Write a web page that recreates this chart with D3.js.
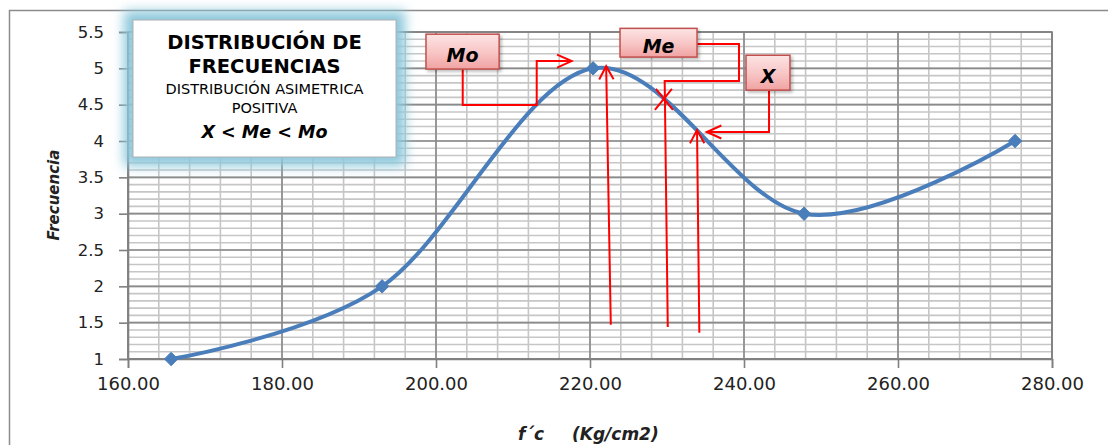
<!DOCTYPE html>
<html><head><meta charset="utf-8">
<script src="https://cdn.jsdelivr.net/npm/d3@7"></script>
<style>
html,body{margin:0;padding:0;background:#fff;}
svg{display:block;}
text{font-family:"DejaVu Sans",sans-serif;}
</style></head>
<body><svg id="chart" width="1108" height="445"></svg>
<script>
// ---- data ----
const classMarks = [165.6, 193.0, 220.4, 247.8, 275.2];
const frequencies = [1, 2, 5, 3, 4];
const xTickValues = [160, 180, 200, 220, 240, 260, 280];
const yTickValues = [1, 1.5, 2, 2.5, 3, 3.5, 4, 4.5, 5, 5.5];
const xTitle = ["f´c", "(Kg/cm2)"];
const yTitle = "Frecuencia";
const boxLines = ["DISTRIBUCIÓN DE", "FRECUENCIAS", "DISTRIBUCIÓN ASIMETRICA", "POSITIVA", "X < Me < Mo"];
// annotation labels (data coordinates)
const labelNames = ["Mo", "Me", "X"];
const labelX = [[198.7, 208.2], [223.9, 233.9], [240.26, 245.97]];
const labelY = [[4.99, 5.47], [5.155, 5.55], [4.70, 5.18]];
const moLeader = [[203.47, 4.99], [203.47, 4.495], [213.08, 4.495], [213.08, 5.10], [217.62, 5.10]];
const meLeader = [[233.9, 5.335], [239.35, 5.335], [239.35, 4.825], [229.7, 4.825], [230.1, 1.44]];
const xLeader = [[243.25, 4.70], [243.25, 4.124], [235.16, 4.124]];
const moArrow = [[222.7, 1.47], [222.1, 5.03]];
const xArrow = [[234.2, 1.36], [233.9, 4.15]];
const meCross = [229.6, 4.58];

// ---- layout ----
const svg = d3.select("#chart");
const L = 128, R = 1052, T = 32, B = 359;
const x = d3.scaleLinear().domain([160, 280]).range([L, R]);
const y = d3.scaleLinear().domain([1, 5.5]).range([B, T]);

const defs = svg.append("defs");
const blur = defs.append("filter").attr("id", "glow").attr("x", "-30%").attr("y", "-40%").attr("width", "160%").attr("height", "180%");
blur.append("feGaussianBlur").attr("stdDeviation", 6);
const grad = defs.append("linearGradient").attr("id", "pink").attr("x1", 0).attr("y1", 0).attr("x2", 0).attr("y2", 1);
grad.append("stop").attr("offset", "0%").attr("stop-color", "#fde4e4");
grad.append("stop").attr("offset", "55%").attr("stop-color", "#f8c4c4");
grad.append("stop").attr("offset", "100%").attr("stop-color", "#f0a2a2");
const sh = defs.append("filter").attr("id", "shadow").attr("x", "-20%").attr("y", "-20%").attr("width", "150%").attr("height", "150%");
sh.append("feDropShadow").attr("dx", 2).attr("dy", 2).attr("stdDeviation", 1.5).attr("flood-color", "#000").attr("flood-opacity", 0.25);

// outer frame
svg.append("rect").attr("x", 9.5).attr("y", 10.5).attr("width", 1200).attr("height", 500)
  .attr("fill", "none").attr("stroke", "#8c8c8c").attr("stroke-width", 1.5);

// grid
const minorX = d3.range(160, 280.001, 4);
const minorY = d3.range(10, 55.001, 1).map(v => v / 10);
const g = svg.append("g");
g.selectAll(".vmin").data(minorX).join("line")
  .attr("x1", d => x(d)).attr("x2", d => x(d)).attr("y1", T).attr("y2", B)
  .attr("stroke", "#c6c6c6").attr("stroke-width", 1.6);
g.selectAll(".hmin").data(minorY).join("line")
  .attr("x1", L).attr("x2", R).attr("y1", d => y(d)).attr("y2", d => y(d))
  .attr("stroke", "#c6c6c6").attr("stroke-width", 1.6);
g.selectAll(".vmaj").data(xTickValues).join("line")
  .attr("x1", d => x(d)).attr("x2", d => x(d)).attr("y1", T).attr("y2", B)
  .attr("stroke", "#8a8a8a").attr("stroke-width", 1.6);
g.selectAll(".hmaj").data(yTickValues).join("line")
  .attr("x1", L).attr("x2", R).attr("y1", d => y(d)).attr("y2", d => y(d))
  .attr("stroke", "#8a8a8a").attr("stroke-width", 1.6);
g.append("rect").attr("x", L).attr("y", T).attr("width", R - L).attr("height", B - T)
  .attr("fill", "none").attr("stroke", "#808080").attr("stroke-width", 1.6);

// axes
const xAxis = svg.append("g").attr("transform", `translate(0,${B})`)
  .call(d3.axisBottom(x).tickValues(xTickValues).tickFormat(d3.format(".2f")).tickSize(9).tickPadding(9));
const yAxis = svg.append("g").attr("transform", `translate(${L},0)`)
  .call(d3.axisLeft(y).tickValues(yTickValues).tickFormat(d => String(d)).tickSize(9).tickPadding(15));
[xAxis, yAxis].forEach(a => {
  a.select(".domain").attr("stroke", "#808080").attr("stroke-width", 1.6);
  a.selectAll(".tick line").attr("stroke", "#808080").attr("stroke-width", 1.6);
  a.selectAll("text").attr("fill", "#222").style("font-family", "DejaVu Sans");
});
xAxis.selectAll("text").style("font-size", "18px").attr("dy", "0.72em");
yAxis.selectAll("text").style("font-size", "16.5px");

// axis titles
svg.append("text").attr("transform", `translate(59,195) rotate(-90)`)
  .attr("text-anchor", "middle").attr("font-size", 15).attr("font-style", "italic").attr("font-weight", "bold")
  .attr("fill", "#222").text(yTitle);
svg.append("text").attr("x", 518).attr("y", 440).attr("font-size", 17).attr("font-style", "italic").attr("font-weight", "bold").attr("fill", "#222").text(xTitle[0]);
svg.append("text").attr("x", 572).attr("y", 440).attr("font-size", 17).attr("font-style", "italic").attr("font-weight", "bold").attr("fill", "#222").text(xTitle[1]);

// curve
const pts = classMarks.map((c, i) => [x(c), y(frequencies[i])]);
svg.append("path").datum(pts)
  .attr("d", d3.line().curve(d3.curveCardinal.tension(0)))
  .attr("fill", "none").attr("stroke", "#4a7ebb").attr("stroke-width", 4).attr("stroke-linecap", "round");
svg.selectAll(".mk").data(pts).join("path")
  .attr("transform", d => `translate(${d[0]},${d[1]})`)
  .attr("d", d3.symbol(d3.symbolDiamond2, 115)())
  .attr("fill", "#4a7ebb").attr("stroke", "#4a7ebb").attr("stroke-width", 1);

// text box with glow
const bx = 133, by = 20, bw = 263, bh = 137;
svg.append("rect").attr("x", bx - 9).attr("y", by - 9).attr("width", bw + 18).attr("height", bh + 18)
  .attr("fill", "#8cc8dc").attr("filter", "url(#glow)");
svg.append("rect").attr("x", bx).attr("y", by).attr("width", bw).attr("height", bh)
  .attr("fill", "#fff").attr("stroke", "#b0b0b0").attr("stroke-width", 1);
const cx = bx + bw / 2;
const boxStyles = [
  {y: 49, s: 19.5, w: "bold", st: "normal"},
  {y: 73, s: 19.5, w: "bold", st: "normal"},
  {y: 94, s: 14.5, w: "normal", st: "normal"},
  {y: 113, s: 14.5, w: "normal", st: "normal"},
  {y: 138, s: 17.5, w: "bold", st: "italic"}
];
boxLines.forEach((t, i) => {
  svg.append("text").attr("x", cx).attr("y", boxStyles[i].y).attr("text-anchor", "middle")
    .attr("font-size", boxStyles[i].s).attr("font-weight", boxStyles[i].w).attr("font-style", boxStyles[i].st)
    .attr("fill", "#000").text(t);
});

// annotations
const red = "#ff0000";
const ln = d3.line().x(d => x(d[0])).y(d => y(d[1]));
const ann = svg.append("g").attr("fill", "none").attr("stroke", red).attr("stroke-width", 2);
function arrowHead(p0, p1, len, ang) {
  const X0 = x(p0[0]), Y0 = y(p0[1]), X1 = x(p1[0]), Y1 = y(p1[1]);
  const a = Math.atan2(Y1 - Y0, X1 - X0);
  const pA = [X1 - len * Math.cos(a - ang), Y1 - len * Math.sin(a - ang)];
  const pB = [X1 - len * Math.cos(a + ang), Y1 - len * Math.sin(a + ang)];
  ann.append("path").attr("d", `M${pA[0]},${pA[1]}L${X1},${Y1}L${pB[0]},${pB[1]}`);
}
[moLeader, meLeader, xLeader, moArrow, xArrow].forEach(p => ann.append("path").attr("d", ln(p)));
arrowHead(moLeader[3], moLeader[4], 16, 0.42);
arrowHead(xLeader[1], xLeader[2], 16, 0.42);
arrowHead(moArrow[0], moArrow[1], 15, 0.5);
arrowHead(xArrow[0], xArrow[1], 15, 0.5);
const cX = x(meCross[0]), cY = y(meCross[1]);
ann.append("path").attr("d", `M${cX - 8},${cY - 10}L${cX + 9},${cY + 11}M${cX - 9},${cY + 11}L${cX + 8},${cY - 10}`);

labelNames.forEach((n, i) => {
  const x0 = x(labelX[i][0]), x1 = x(labelX[i][1]);
  const y0 = y(labelY[i][1]), y1 = y(labelY[i][0]);
  svg.append("rect").attr("x", x0).attr("y", y0).attr("width", x1 - x0).attr("height", y1 - y0)
    .attr("fill", "url(#pink)").attr("stroke", "#c0504d").attr("stroke-width", 1.5).attr("filter", "url(#shadow)");
  svg.append("text").attr("x", (x0 + x1) / 2).attr("y", (y0 + y1) / 2 + 10).attr("text-anchor", "middle")
    .attr("font-size", 19).attr("font-weight", "bold").attr("font-style", "italic").attr("fill", "#000").text(n);
});
</script></body></html>
